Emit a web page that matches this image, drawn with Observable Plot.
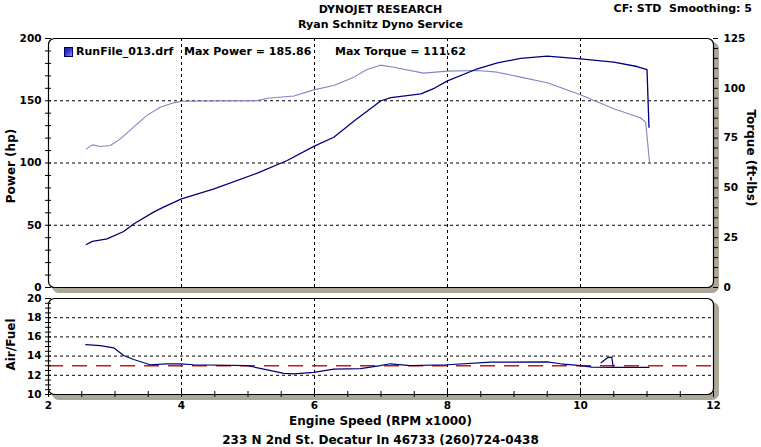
<!DOCTYPE html>
<html><head><meta charset="utf-8">
<script src="https://cdn.jsdelivr.net/npm/d3@7"></script>
<script src="https://cdn.jsdelivr.net/npm/@observablehq/plot@0.6"></script>
<style>
body{margin:0;background:#fff;font-family:"DejaVu Sans",Verdana,sans-serif;font-weight:bold;color:#000;}
#wrap{position:relative;width:761px;height:447px;overflow:hidden;background:#fff;}
.t{position:absolute;white-space:nowrap;line-height:14px;}
#wrap svg{position:absolute;left:0;overflow:visible;}
.icon{position:absolute;left:64px;top:47px;width:7px;height:8px;border:1px solid #000060;background:linear-gradient(135deg,#1a1aa8 0%,#3a3ad0 50%,#9090ff 100%);}
</style></head><body><div id="wrap">
<div class="t" style="left:0;width:761px;text-align:center;top:3px;font-size:11px">DYNOJET RESEARCH</div>
<div class="t" style="left:0;width:761px;text-align:center;top:18px;font-size:11px">Ryan Schnitz Dyno Service</div>
<div class="t" style="right:9px;top:2px;font-size:11px">CF: STD&nbsp;&nbsp;Smoothing: 5</div>
<div class="t" style="left:0;width:761px;text-align:center;top:414px;font-size:12px">Engine Speed (RPM x1000)</div>
<div class="t" style="left:0;width:761px;text-align:center;top:433px;font-size:12px">233 N 2nd St. Decatur In 46733 (260)724-0438</div>
</div>
<script>
// ---- data ----
const rpmPower = [2.57,2.66,2.88,3.13,3.28,3.58,3.73,4.0,4.49,5.14,5.59,5.99,6.29,6.6,7.0,7.15,7.6,7.8,8.0,8.45,8.75,9.1,9.5,10.0,10.5,10.85,11.0,11.03];
const power    = [34.5,37,39,45,51,60.5,64.5,71.2,79.3,91.8,102,113.3,120.7,134,150,152.5,155.5,160,166,175.7,180.5,184,185.86,183.7,181,177.5,175,128.7];
const rpmTorque = [2.57,2.66,2.78,2.93,3.08,3.28,3.48,3.68,3.88,4.01,4.5,5.14,5.29,5.69,5.99,6.29,6.59,6.79,6.99,7.19,7.64,8.0,8.45,8.75,9.1,9.5,10.0,10.5,10.9,10.98,11.04];
const torque    = [69.6,71.6,70.8,71.3,74.6,80.5,86.4,90.5,92.7,93.5,93.7,93.8,95.0,96.1,99.2,101.4,105.6,109.4,111.62,110.6,107.6,108.6,108.9,108.1,105.6,102.8,96.8,89.7,85.2,83.0,62.1];
const rpmAF   = [2.56,2.78,2.98,3.13,3.28,3.53,3.78,3.98,4.18,4.99,5.29,5.54,5.69,5.99,6.29,6.69,6.99,7.14,7.44,8.0,8.65,9.5,9.7,10.0,10.17,10.5,11.03];
const airFuel = [15.2,15.1,14.86,14.06,13.65,13.1,13.2,13.2,13.1,13.0,12.57,12.2,12.15,12.3,12.64,12.7,13.0,13.2,13.0,13.1,13.37,13.4,13.2,13.0,12.85,12.83,12.83];
const rpmAFBlip = [10.31,10.41,10.47,10.49];
const airFuelBlip = [13.3,13.85,13.9,12.95];
const afTarget = [13.0];
const rpmTicks = [2,4,6,8,10,12];
const rpmGrid = [4,6,8,10];
const powerTicks = [0,50,100,150,200];
const powerGrid = [50,100,150];
const torqueTicks = [0,25,50,75,100,125];
const afTicks = [10,12,14,16,18,20];
const afGrid = [12,14,16,18];
const maxPower = 185.86, maxTorque = 111.62;

// ---- tables ----
const tqToHp = 200/125;
const powerData = rpmPower.map((r,i)=>({rpm:r, v:power[i]}));
const torqueData = rpmTorque.map((r,i)=>({rpm:r, v:torque[i]}));
const afData = rpmAF.map((r,i)=>({rpm:r, v:airFuel[i]}));
const afBlip = rpmAFBlip.map((r,i)=>({rpm:r, v:airFuelBlip[i]}));

const shadow = "#aca899";
const gridStyle = {stroke:"#000", strokeOpacity:1, strokeDasharray:"3,3", strokeWidth:1};
const style = {fontFamily:"DejaVu Sans, Verdana, sans-serif", fontWeight:"bold", fontSize:"10.5px", background:"transparent", color:"#000", overflow:"visible"};
const shadowFrame = () => Plot.frame({fill:shadow, stroke:shadow, rx:6, insetLeft:4, insetTop:4, insetRight:-5, insetBottom:-5});

const topPlot = Plot.plot({
  width:761, height:292, marginLeft:48, marginRight:48, marginTop:38, marginBottom:5,
  x:{domain:[2,12], axis:null},
  y:{domain:[0,200], axis:null},
  style,
  marks:[
    shadowFrame(),
    Plot.frame({fill:"white", rx:6}),
    Plot.gridX(rpmGrid, gridStyle),
    Plot.gridY(powerGrid, gridStyle),
    Plot.line(torqueData, {x:"rpm", y:d=>d.v*tqToHp, stroke:"#8383c9", strokeWidth:1.1}),
    Plot.line(powerData, {x:"rpm", y:"v", stroke:"#00007a", strokeWidth:1.3}),
    Plot.frame({stroke:"#000", rx:6, strokeWidth:1.2}),
    Plot.axisY(d3.range(0,201,10), {anchor:"left", tickSize:6, dx:3, tickFormat:()=>"", label:null}),
    Plot.axisY(powerTicks, {anchor:"left", tickSize:0, tickPadding:7, label:null}),
    Plot.axisY(d3.range(0,126,5).map(t=>t*tqToHp), {anchor:"right", tickSize:5, dx:-1, tickFormat:()=>"", label:null}),
    Plot.axisY(torqueTicks.map(t=>t*tqToHp), {anchor:"right", tickSize:0, tickPadding:10, tickFormat:d=>String(Math.round(d/tqToHp)), label:null}),
    Plot.text(["Power (hp)"], {frameAnchor:"left", textAnchor:"middle", dx:-37, dy:3, rotate:-90, fontSize:12}),
    Plot.text(["Torque (ft-lbs)"], {frameAnchor:"right", textAnchor:"middle", dx:37, dy:-5, rotate:90, fontSize:12, letterSpacing:"1px"})
  ]
});
topPlot.style.top = "0px";

const bottomPlot = Plot.plot({
  width:761, height:155, marginLeft:48, marginRight:48, marginTop:6, marginBottom:53,
  x:{domain:[2,12], axis:null},
  y:{domain:[10,20], axis:null},
  style,
  marks:[
    shadowFrame(),
    Plot.frame({fill:"white", rx:6}),
    Plot.gridX(rpmGrid, gridStyle),
    Plot.gridY(afGrid, gridStyle),
    Plot.ruleY(afTarget, {stroke:"#c81818", strokeWidth:1.5, strokeDasharray:"15,9"}),
    Plot.line(afData, {x:"rpm", y:"v", stroke:"#00007a", strokeWidth:1.2}),
    Plot.line(afBlip, {x:"rpm", y:"v", stroke:"#00007a", strokeWidth:1.2}),
    Plot.frame({stroke:"#000", rx:6, strokeWidth:1.2}),
    Plot.axisY(d3.range(10,20.01,0.5), {anchor:"left", tickSize:6, dx:3, tickFormat:()=>"", label:null}),
    Plot.axisY(afTicks, {anchor:"left", tickSize:0, tickPadding:7, label:null}),
    Plot.axisX(d3.range(2,12.01,0.5), {anchor:"bottom", tickSize:6, dy:-3, tickFormat:()=>"", label:null}),
    Plot.axisX(rpmTicks, {anchor:"bottom", tickSize:0, tickPadding:7, label:null}),
    Plot.text(["Air/Fuel"], {frameAnchor:"left", textAnchor:"middle", dx:-37, dy:-2, rotate:-90, fontSize:12, letterSpacing:"1px"})
  ]
});
bottomPlot.style.top = "292px";

const wrap = document.getElementById("wrap");
wrap.appendChild(topPlot);
wrap.appendChild(bottomPlot);

// legend (HTML)
const icon = document.createElement("div"); icon.className = "icon"; wrap.appendChild(icon);
const leg = [["RunFile_013.drf",76],["Max Power = " + maxPower.toFixed(2),184],["Max Torque = " + maxTorque.toFixed(2),335]];
for (const [txt,left] of leg) {
  const d = document.createElement("div");
  d.className = "t"; d.style.left = left+"px"; d.style.top = "45px"; d.style.fontSize = "11px";
  d.textContent = txt; wrap.appendChild(d);
}
</script></body></html>
